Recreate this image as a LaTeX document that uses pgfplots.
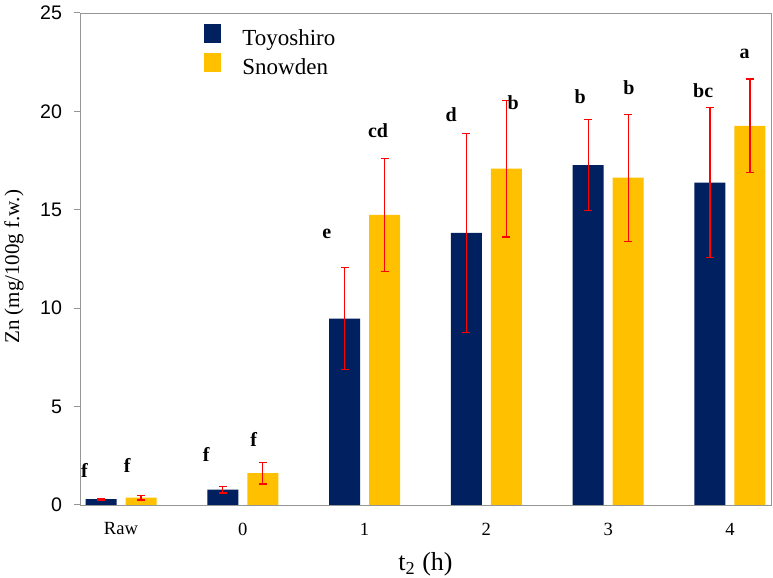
\documentclass[border=0pt]{standalone}
\usepackage{fontspec}
\setmainfont{Liberation Serif}
\newfontfamily\arial{Liberation Sans}
\usepackage{pgfplots}
\pgfplotsset{compat=1.18}
\definecolor{navy}{RGB}{0,32,96}
\definecolor{gold}{RGB}{255,192,0}
\definecolor{axgray}{RGB}{150,150,150}
\begin{document}
\begin{tikzpicture}
\begin{axis}[
name=ax,
scale only axis,width=345.5pt,height=246pt,
ybar,bar width=15.5pt,
xmin=-0.337,xmax=5.337,ymin=0,ymax=25,
xtick={0,1,2,3,4,5},
xticklabels={Raw,0,1,2,3,4},
xtick style={draw=none},
xticklabel style={font=\fontsize{9.3}{10}\selectfont,anchor=center,yshift=-9pt},
ytick={0,5,10,15,20,25},
ytick pos=left,tick align=outside,major tick length=3pt,
yticklabel style={font=\arial\fontsize{9.8}{10}\selectfont,xshift=-2.5pt},
/pgf/number format/assume math mode=true,
axis line style={axgray},every tick/.style={axgray,line width=0.5pt},
xlabel={t\textsubscript{2} (h)},
ylabel={Zn (mg/100g f.w.)},
every axis x label/.style={at={(axis description cs:0.5,-0.12)},anchor=center,font=\fontsize{13}{14}\selectfont},
every axis y label/.style={at={(axis description cs:-0.0955,0.484)},rotate=90,anchor=center,font=\fontsize{10.5}{12}\selectfont},
legend style={at={(axis description cs:0.1795,0.979)},anchor=north west,draw=none,fill=none,
  inner sep=0pt,row sep=1pt,font=\fontsize{11.5}{13}\selectfont,
  nodes={inner sep=0pt,text height=7.6pt,text depth=2.4pt},column sep=10.5pt},
legend image code/.code={\path[#1] (0pt,-1pt) rectangle (8.5pt,8.5pt);},
legend cell align=left,
clip=false,
error bars/y dir=both,error bars/y explicit,
]
\addplot[fill=navy,draw=none,bar shift=-10pt,
  error bars/.cd,error bar style={red,line width=0.6pt},
  error mark options={rotate=90,red,mark size=2pt,line width=0.6pt}]
coordinates {(0,0.30) +- (0,0.05) (1,0.78) +- (0,0.17) (2,9.47) +- (0,2.60)
 (3,13.83) +- (0,5.05) (4,17.27) +- (0,2.31) (5,16.38) +- (0,3.80)};
\addplot[fill=gold,draw=none,bar shift=10pt,
  error bars/.cd,error bar style={red,line width=0.6pt},
  error mark options={rotate=90,red,mark size=2pt,line width=0.6pt}]
coordinates {(0,0.37) +- (0,0.12) (1,1.62) +- (0,0.55) (2,14.74) +- (0,2.87)
 (3,17.09) +- (0,3.47) (4,16.63) +- (0,3.23) (5,19.27) +- (0,2.38)};
\legend{Toyoshiro,Snowden}
% significance letters
\begin{scope}[every node/.style={font=\bfseries\fontsize{10}{11}\selectfont,anchor=center,inner sep=0pt}]
\node at (axis cs:-0.30,1.74) {f};
\node at (axis cs:0.05,2.03) {f};
\node at (axis cs:0.70,2.59) {f};
\node at (axis cs:1.09,3.35) {f};
\node at (axis cs:1.69,13.8) {e};
\node at (axis cs:2.11,19.0) {cd};
\node at (axis cs:2.71,19.82) {d};
\node at (axis cs:3.22,20.44) {b};
\node at (axis cs:3.77,20.77) {b};
\node at (axis cs:4.17,21.22) {b};
\node at (axis cs:4.78,21.04) {bc};
\node at (axis cs:5.12,22.9) {a};
\end{scope}
\end{axis}
\pgfresetboundingbox
\path ([shift={(-40pt,-36.5pt)}]ax.south west) rectangle ([shift={(1pt,6.5pt)}]ax.north east);
\end{tikzpicture}
\end{document}
